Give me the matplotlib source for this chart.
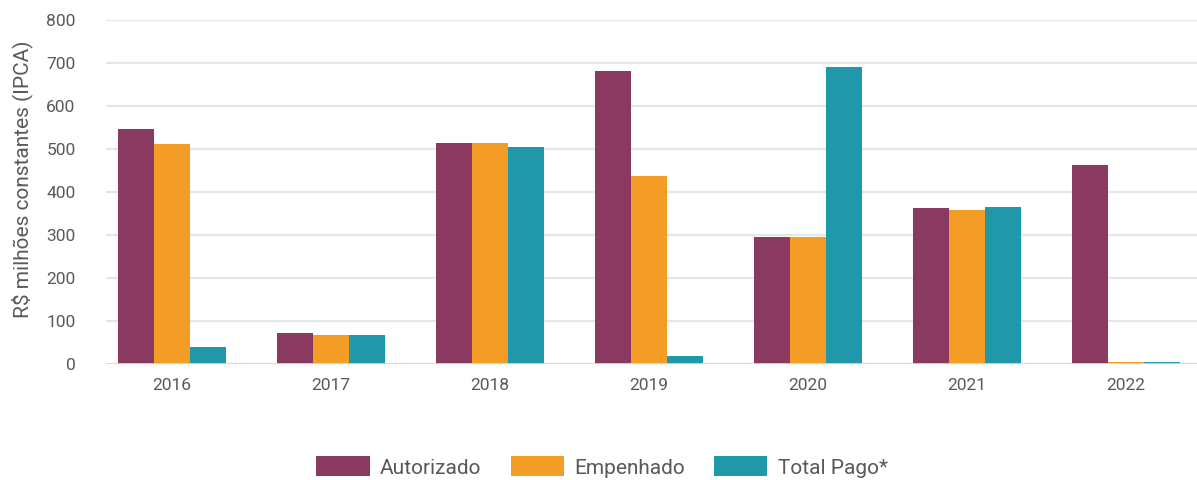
import matplotlib
matplotlib.use("Agg")
import matplotlib.pyplot as plt
import numpy as np

years = ["2016", "2017", "2018", "2019", "2020", "2021", "2022"]
autorizado = [545, 72, 514, 681, 295, 362, 461]
empenhado = [511, 66, 514, 437, 295, 358, 3]
total_pago = [38, 66, 505, 19, 691, 365, 3]
series_names = ["Autorizado", "Empenhado", "Total Pago*"]
colors = ["#8A3960", "#F39D26", "#1F99A9"]
yticks = [0, 100, 200, 300, 400, 500, 600, 700, 800]

plt.rcParams['font.family'] = ['Roboto', 'DejaVu Sans']

fig = plt.figure(figsize=(11.97, 4.80), dpi=100)
ax = fig.add_axes([106/1197, 1 - 363.7/480, 1 - 106/1197, (363.7 - 19.7)/480])

x = np.arange(len(years))
w = 0.2264
for i, (vals, name, c) in enumerate(zip([autorizado, empenhado, total_pago], series_names, colors)):
    ax.bar(x + (i - 1) * w, vals, width=w, color=c, label=name, zorder=3)

ax.set_ylim(0, 800)
ax.set_xlim(-0.415, 6.447)
ax.set_yticks(yticks)
ax.set_xticks(x)
ax.set_xticklabels(years)
ax.grid(axis='y', color='#E6E6E6', linewidth=1.6, zorder=0)
ax.axhline(0, color='#D9D9D9', linewidth=2, zorder=4)
for s in ax.spines.values():
    s.set_visible(False)
ax.tick_params(axis='y', length=0, pad=22, labelsize=12.5, labelcolor='#595959')
ax.tick_params(axis='x', length=0, pad=10, labelsize=12.5, labelcolor='#595959')

fig.text(22/1197, 1 - 179/480, "R$ milhões constantes (IPCA)", rotation=90,
         ha='center', va='center', fontsize=15, color='#595959')

leg = fig.legend(loc='center', bbox_to_anchor=(0.503, 1 - 467/480), ncol=3, frameon=False,
                 fontsize=15, handlelength=2.55, handleheight=1.1, handletextpad=0.5,
                 columnspacing=1.4, borderaxespad=0)
for t in leg.get_texts():
    t.set_color('#595959')

fig.savefig("out.png", dpi=100)
